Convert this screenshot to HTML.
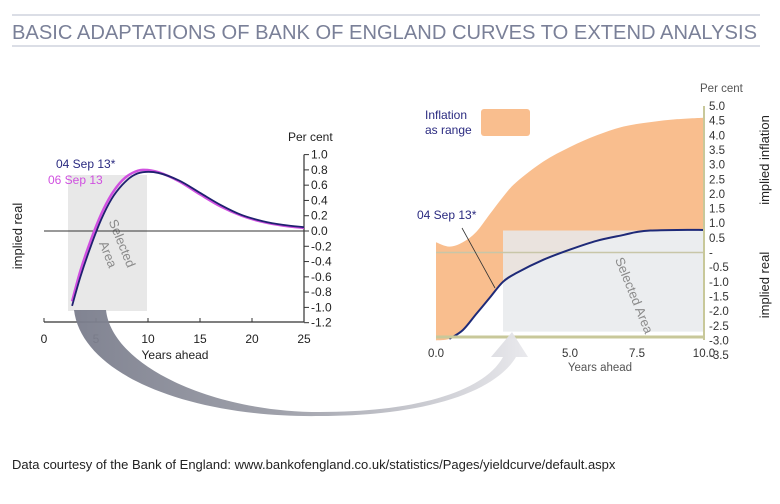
<!DOCTYPE html>
<html><head><meta charset="utf-8"><style>
body{margin:0;background:#fff;}
svg{display:block;font-family:"Liberation Sans",Arial,sans-serif;}
</style></head><body>
<svg id="c" width="780" height="504" viewBox="0 0 780 504">
<defs>
<linearGradient id="ag" x1="0" y1="0" x2="1" y2="0">
<stop offset="0" stop-color="#7a7d8c"/><stop offset="0.45" stop-color="#9a9ca6"/><stop offset="1" stop-color="#e8e8ec"/>
</linearGradient>
</defs>
<line x1="12" y1="15" x2="760" y2="15" stroke="#c5cad8" stroke-width="1.2"/>
<text x="12" y="39" font-size="20" fill="#7a8098" textLength="745" lengthAdjust="spacingAndGlyphs">BASIC ADAPTATIONS OF BANK OF ENGLAND CURVES TO EXTEND ANALYSIS</text>
<line x1="12" y1="46" x2="760" y2="46" stroke="#c5cad8" stroke-width="1.2"/>

<g id="left"></g>
<g id="right"></g>

<path d="M74,310 L106,310 C112,365 210,412 320,412 C420,412 485,390 503,357 L491,357 L512,332 L528,357 L516,357 C494,394 420,416 320,416 C190,418 82,375 74,310 Z" fill="url(#ag)" opacity="0.95"/>

<text x="12" y="469" font-size="13" fill="#222">Data courtesy of the Bank of England: www.bankofengland.co.uk/statistics/Pages/yieldcurve/default.aspx</text>
</svg>
<script>
// Left chart data
const leftYears = [2.7,3.5,4.5,5.5,6.5,7.5,8.5,9.5,11,13,15,17,19,21,23,25];
const leftSep04 = [-0.98,-0.6,-0.2,0.15,0.42,0.6,0.72,0.77,0.76,0.66,0.5,0.34,0.21,0.13,0.08,0.05];
const leftSep06 = [-0.92,-0.52,-0.12,0.22,0.48,0.66,0.76,0.8,0.77,0.65,0.48,0.32,0.2,0.12,0.07,0.04];
const leftYTicks = ["1.0","0.8","0.6","0.4","0.2","0.0","-0.2","-0.4","-0.6","-0.8","-1.0","-1.2"];
const leftYVals = [1.0,0.8,0.6,0.4,0.2,0.0,-0.2,-0.4,-0.6,-0.8,-1.0,-1.2];
const leftXTicks = [0,5,10,15,20,25];
// Right chart data
const rightYears = [0,0.5,1,1.5,2,2.5,3,4,5,6,7,8,9,10];
const rightUpper = [0.35,0.2,0.35,0.7,1.3,1.9,2.4,3.1,3.6,4.0,4.3,4.45,4.55,4.6];
const realYears = [0.5,1,1.5,2,2.5,3,4,5,6,7,7.5,8,9,10];
const realVals = [-2.95,-2.65,-2.1,-1.55,-1.0,-0.7,-0.25,0.1,0.4,0.6,0.7,0.75,0.77,0.77];
const rightYTicks = ["5.0","4.5","4.0","3.5","3.0","2.5","2.0","1.5","1.0","0.5","-","-0.5","-1.0","-1.5","-2.0","-2.5","-3.0","-3.5"];
const rightYVals = [5,4.5,4,3.5,3,2.5,2,1.5,1,0.5,0,-0.5,-1,-1.5,-2,-2.5,-3,-3.5];
const rightXTicks = ["0.0","5.0","7.5","10.0"];
const rightXVals = [0,5,7.5,10];

const NS="http://www.w3.org/2000/svg";
function mk(parent,tag,attrs,txt){const e=document.createElementNS(NS,tag);for(const k in attrs)e.setAttribute(k,attrs[k]);if(txt!==undefined)e.textContent=txt;parent.appendChild(e);return e;}
function smooth(pts){let d="M"+pts[0][0]+","+pts[0][1];for(let i=0;i<pts.length-1;i++){const p0=pts[i-1]||pts[i],p1=pts[i],p2=pts[i+1],p3=pts[i+2]||p2;const c1x=p1[0]+(p2[0]-p0[0])/6,c1y=p1[1]+(p2[1]-p0[1])/6,c2x=p2[0]-(p3[0]-p1[0])/6,c2y=p2[1]-(p3[1]-p1[1])/6;d+=" C"+c1x+","+c1y+" "+c2x+","+c2y+" "+p2[0]+","+p2[1];}return d;}

// LEFT
const L=document.getElementById('left');
const lx=v=>44+v*10.4, ly=v=>231-v*76.4;
let r=mk(L,'rect',{x:68,y:175,width:79,height:136,fill:'#e8e8e8'});


let t=mk(L,'text',{x:0,y:0,'font-size':13,fill:'#8a8a8a',transform:'translate(118,245) rotate(68)','text-anchor':'middle'},'Selected');


t=mk(L,'text',{x:0,y:0,'font-size':13,fill:'#8a8a8a',transform:'translate(104,256) rotate(68)','text-anchor':'middle'},'Area');


let l=mk(L,'line',{x1:44,y1:ly(0),x2:304,y2:ly(0),stroke:'#333','stroke-width':1});


l=mk(L,'line',{x1:44,y1:322,x2:304,y2:322,stroke:'#333','stroke-width':1.2});


l=mk(L,'line',{x1:304,y1:ly(1.0),x2:304,y2:322,stroke:'#333','stroke-width':1.2});


leftYVals.forEach((v,i)=>{
  const k=mk(L,'line',{x1:304,y1:ly(v),x2:309,y2:ly(v),stroke:'#333'});
  
  
  const tt=mk(L,'text',{x:311,y:ly(v)+4,'font-size':12,fill:'#222'},leftYTicks[i]);
  
  
});
leftXTicks.forEach(v=>{
  const k=mk(L,'line',{x1:lx(v),y1:322,x2:lx(v),y2:318,stroke:'#333'});
  
  
  const tt=mk(L,'text',{x:lx(v),y:343,'font-size':12,fill:'#222','text-anchor':'middle'},String(v));
  
  
});
t=mk(L,'text',{x:175,y:359,'font-size':12,fill:'#222','text-anchor':'middle'},'Years ahead');


t=mk(L,'text',{x:288,y:141,'font-size':12,fill:'#222'},'Per cent');


t=mk(L,'text',{x:0,y:0,'font-size':13,fill:'#222',transform:'translate(22,236) rotate(-90)','text-anchor':'middle'},'implied real');


let p=mk(L,'path',{d:smooth(leftYears.map((x,i)=>[lx(x),ly(leftSep06[i])])),fill:'none',stroke:'#d050e0','stroke-width':2.5});


p=mk(L,'path',{d:smooth(leftYears.map((x,i)=>[lx(x),ly(leftSep04[i])])),fill:'none',stroke:'#202070','stroke-width':1.8});


t=mk(L,'text',{x:56,y:168,'font-size':12,fill:'#2a2a80'},'04 Sep 13*');


t=mk(L,'text',{x:48,y:184,'font-size':12,fill:'#d050e0'},'06 Sep 13');



// RIGHT
const R=document.getElementById('right');
const rx=v=>436+v*26.8, ry=v=>252.5-v*29.3;
const upper=rightYears.map((x,i)=>[rx(x),ry(rightUpper[i])]);
const lowerPts=[[rx(0),ry(-3.0)]].concat(realYears.map((x,i)=>[rx(x),ry(realVals[i])]));
let areaD=smooth(upper)+" L"+rx(10)+","+ry(realVals[realVals.length-1]);
const rev=lowerPts.slice().reverse();
areaD+=" "+smooth(rev).replace(/^M/,"L")+" Z";
p=mk(R,'path',{d:areaD,fill:'#f9be8e'});


r=mk(R,'rect',{x:rx(2.5),y:ry(0.75),width:rx(10)-rx(2.5),height:ry(-2.7)-ry(0.75),fill:'#e8eaec',opacity:0.85});


l=mk(R,'line',{x1:436,y1:ry(0),x2:704,y2:ry(0),stroke:'#c8c6a8','stroke-width':1.5});


p=mk(R,'path',{d:smooth(realYears.map((x,i)=>[rx(x),ry(realVals[i])])),fill:'none',stroke:'#1e2a78','stroke-width':2});


t=mk(R,'text',{x:0,y:0,'font-size':13,fill:'#8a8a8a',transform:'translate(630,297) rotate(68)','text-anchor':'middle'},'Selected Area');


l=mk(R,'line',{x1:436,y1:337,x2:704,y2:337,stroke:'#c8c89a','stroke-width':3});


l=mk(R,'line',{x1:704,y1:106,x2:704,y2:340,stroke:'#c8c89a','stroke-width':2});


rightYVals.forEach((v,i)=>{
  const tt=mk(R,'text',{x:709,y:ry(v)+4,'font-size':11.5,fill:'#333'},rightYTicks[i]);
  
  
});
rightXVals.forEach((v,i)=>{
  const tt=mk(R,'text',{x:rx(v),y:357,'font-size':11.5,fill:'#333','text-anchor':'middle'},rightXTicks[i]);
  
  
});
t=mk(R,'text',{x:600,y:371,'font-size':11.5,fill:'#555','text-anchor':'middle'},'Years ahead');


t=mk(R,'text',{x:700,y:92,'font-size':11.5,fill:'#555'},'Per cent');


t=mk(R,'text',{x:0,y:0,'font-size':13,fill:'#222',transform:'translate(769,160) rotate(-90)','text-anchor':'middle'},'implied inflation');


t=mk(R,'text',{x:0,y:0,'font-size':13,fill:'#222',transform:'translate(769,285) rotate(-90)','text-anchor':'middle'},'implied real');


r=mk(R,'rect',{x:481,y:109,width:49,height:27,rx:3,fill:'#f9be8e'});


t=mk(R,'text',{x:425,y:119,'font-size':12,fill:'#2a2a80'},'Inflation');


t=mk(R,'text',{x:425,y:134,'font-size':12,fill:'#2a2a80'},'as range');


t=mk(R,'text',{x:417,y:219,'font-size':12,fill:'#2a2a80'},'04 Sep 13*');


l=mk(R,'line',{x1:462,y1:228,x2:495,y2:288,stroke:'#333','stroke-width':0.8});


</script>
</body></html>
